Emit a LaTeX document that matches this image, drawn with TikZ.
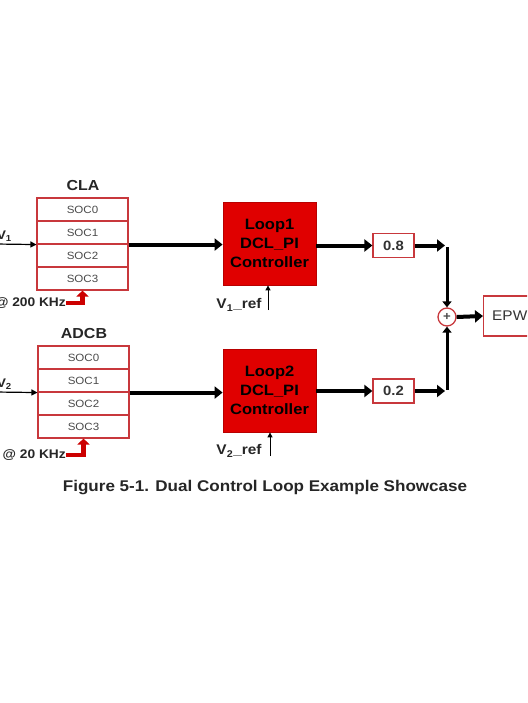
\documentclass[tikz,border=0pt]{standalone}
\usepackage{fontspec}
\setmainfont{Liberation Sans}[FakeStretch=1.1]
\usetikzlibrary{arrows.meta}
\definecolor{boxred}{HTML}{C8383C}
\definecolor{fillred}{HTML}{E00000}
\definecolor{edgered}{HTML}{B80000}
\definecolor{trig}{HTML}{CC0000}
\definecolor{soctext}{HTML}{4A4A4A}
\begin{document}
\begin{tikzpicture}[x=1pt,y=-1pt,
  socbox/.style={draw=boxred, line width=1.1pt, fill=white, minimum width=91pt, minimum height=23pt, inner sep=0pt, font=\fontsize{10.5}{12}\selectfont, text=soctext},
  loopbox/.style={draw=edgered, line width=0.8pt, fill=fillred, minimum width=93pt, minimum height=83pt, inner sep=0pt, align=center, font=\fontsize{15}{19}\selectfont\bfseries},
  gainbox/.style={draw=boxred, line width=1.2pt, fill=white, minimum width=41pt, minimum height=24pt, inner sep=0pt, font=\fontsize{13.5}{15}\selectfont\bfseries, text=black!80},
  title/.style={font=\fontsize{14.5}{16}\selectfont\bfseries, text=black!85},
  lbl/.style={font=\fontsize{12.5}{14}\selectfont\bfseries, text=black!85},
  reflbl/.style={font=\fontsize{14}{16}\selectfont\bfseries, text=black!85},
  thickarrow/.style={line width=4pt, -{Triangle[length=8pt,width=12pt]}},
  vertarrow/.style={line width=3pt, -{Triangle[length=6pt,width=9pt]}},
  inarrow/.style={line width=1.2pt, -{Triangle[length=6pt,width=6pt]}},
  refarrow/.style={line width=1pt, -{Triangle[length=5pt,width=5pt]}},
  trigarrow/.style={draw=trig, line width=4.5pt, -{Triangle[length=6pt,width=12pt]}}
]
\useasboundingbox (0,0) rectangle (527,703);
\clip (0,0) rectangle (527,703);
\fill[white] (0,0) rectangle (527,703);

% ---- Loop 1 ----
\node[title] (cla) at (83,186) {CLA};
\node[socbox] (c0) at (82.5,209.5) {SOC0};
\node[socbox] (c1) at (82.5,232.5) {SOC1};
\node[socbox] (c2) at (82.5,255.5) {SOC2};
\node[socbox] (c3) at (82.5,278.5) {SOC3};
\coordinate (in1) at (-5,244);
\node[lbl, anchor=south east, inner sep=1pt] (v1) at (13,243) {V\textsubscript{1}};
\draw[inarrow] (in1) -- (c1.south west);
\node[lbl, anchor=east, inner sep=0pt] (f1) at (66,303) {@ 200 KHz};
\draw[trigarrow] (f1.east) -| (c3.south);

\node[loopbox] (l1) at (269.5,243.5) {Loop1\\DCL\_PI\\Controller};
\draw[thickarrow] (c1.south east) -- (l1.west |- c1.south east);
\node[reflbl, anchor=center, inner sep=0pt] (r1) at (239,305) {V\textsubscript{1}\_ref};
\coordinate (r1b) at (268,310);
\draw[refarrow] (r1b) -- (r1b |- l1.south);

\node[gainbox] (g1) at (393.5,245.5) {0.8};
\draw[thickarrow] (l1.east |- g1.west) -- (g1.west);

% ---- Loop 2 ----
\node[title] (adcb) at (84,334) {ADCB};
\node[socbox] (d0) at (83.5,357.5) {SOC0};
\node[socbox] (d1) at (83.5,380.5) {SOC1};
\node[socbox] (d2) at (83.5,403.5) {SOC2};
\node[socbox] (d3) at (83.5,426.5) {SOC3};
\coordinate (in2) at (-5,392);
\node[lbl, anchor=south east, inner sep=1pt] (v2) at (13,391) {V\textsubscript{2}};
\draw[inarrow] (in2) -- (d1.south west);
\node[lbl, anchor=east, inner sep=0pt] (f2) at (66,455) {@ 20 KHz};
\draw[trigarrow] (f2.east) -| (d3.south);

\node[loopbox] (l2) at (269.5,390.5) {Loop2\\DCL\_PI\\Controller};
\draw[thickarrow] (d1.south east) -- (l2.west |- d1.south east);
\node[reflbl, anchor=center, inner sep=0pt] (r2) at (239,451) {V\textsubscript{2}\_ref};
\coordinate (r2b) at (270,456);
\draw[refarrow] (r2b) -- (r2b |- l2.south);

\node[gainbox] (g2) at (393.5,391) {0.2};
\draw[thickarrow] (l2.east |- g2.west) -- (g2.west);

% ---- sum and EPWM ----
\node[draw=boxred, line width=1.3pt, circle, minimum size=18pt, inner sep=0pt, fill=white, font=\fontsize{12}{12}\selectfont\bfseries, text=black!70] (sum) at (447,317) {+};
\coordinate (j1) at (447,245.5);
\coordinate (j2) at (447,391);
\draw[thickarrow] (g1.east) -- ([xshift=-2pt]j1);
\draw[vertarrow] ([yshift=-1.5pt]j1) -- (sum.north);
\draw[thickarrow] (g2.east) -- ([xshift=-2pt]j2);
\draw[vertarrow] ([yshift=1.5pt]j2) -- (sum.south);

\node[draw=boxred, line width=1.2pt, fill=white, minimum width=90pt, minimum height=40pt, inner sep=0pt, anchor=west] (epwm) at (483,316) {};
\node[anchor=west, inner sep=0pt, font=\fontsize{14}{16}\selectfont, text=black!80] (epwmtext) at (492,316) {EPWM};
\draw[thickarrow] (sum.east) -- (epwm.west);

% ---- caption ----
\node[font=\fontsize{15.5}{17}\selectfont\bfseries, text=black!85] (cap) at (265,488) {Figure 5-1. Dual Control Loop Example Showcase};
\end{tikzpicture}
\end{document}
